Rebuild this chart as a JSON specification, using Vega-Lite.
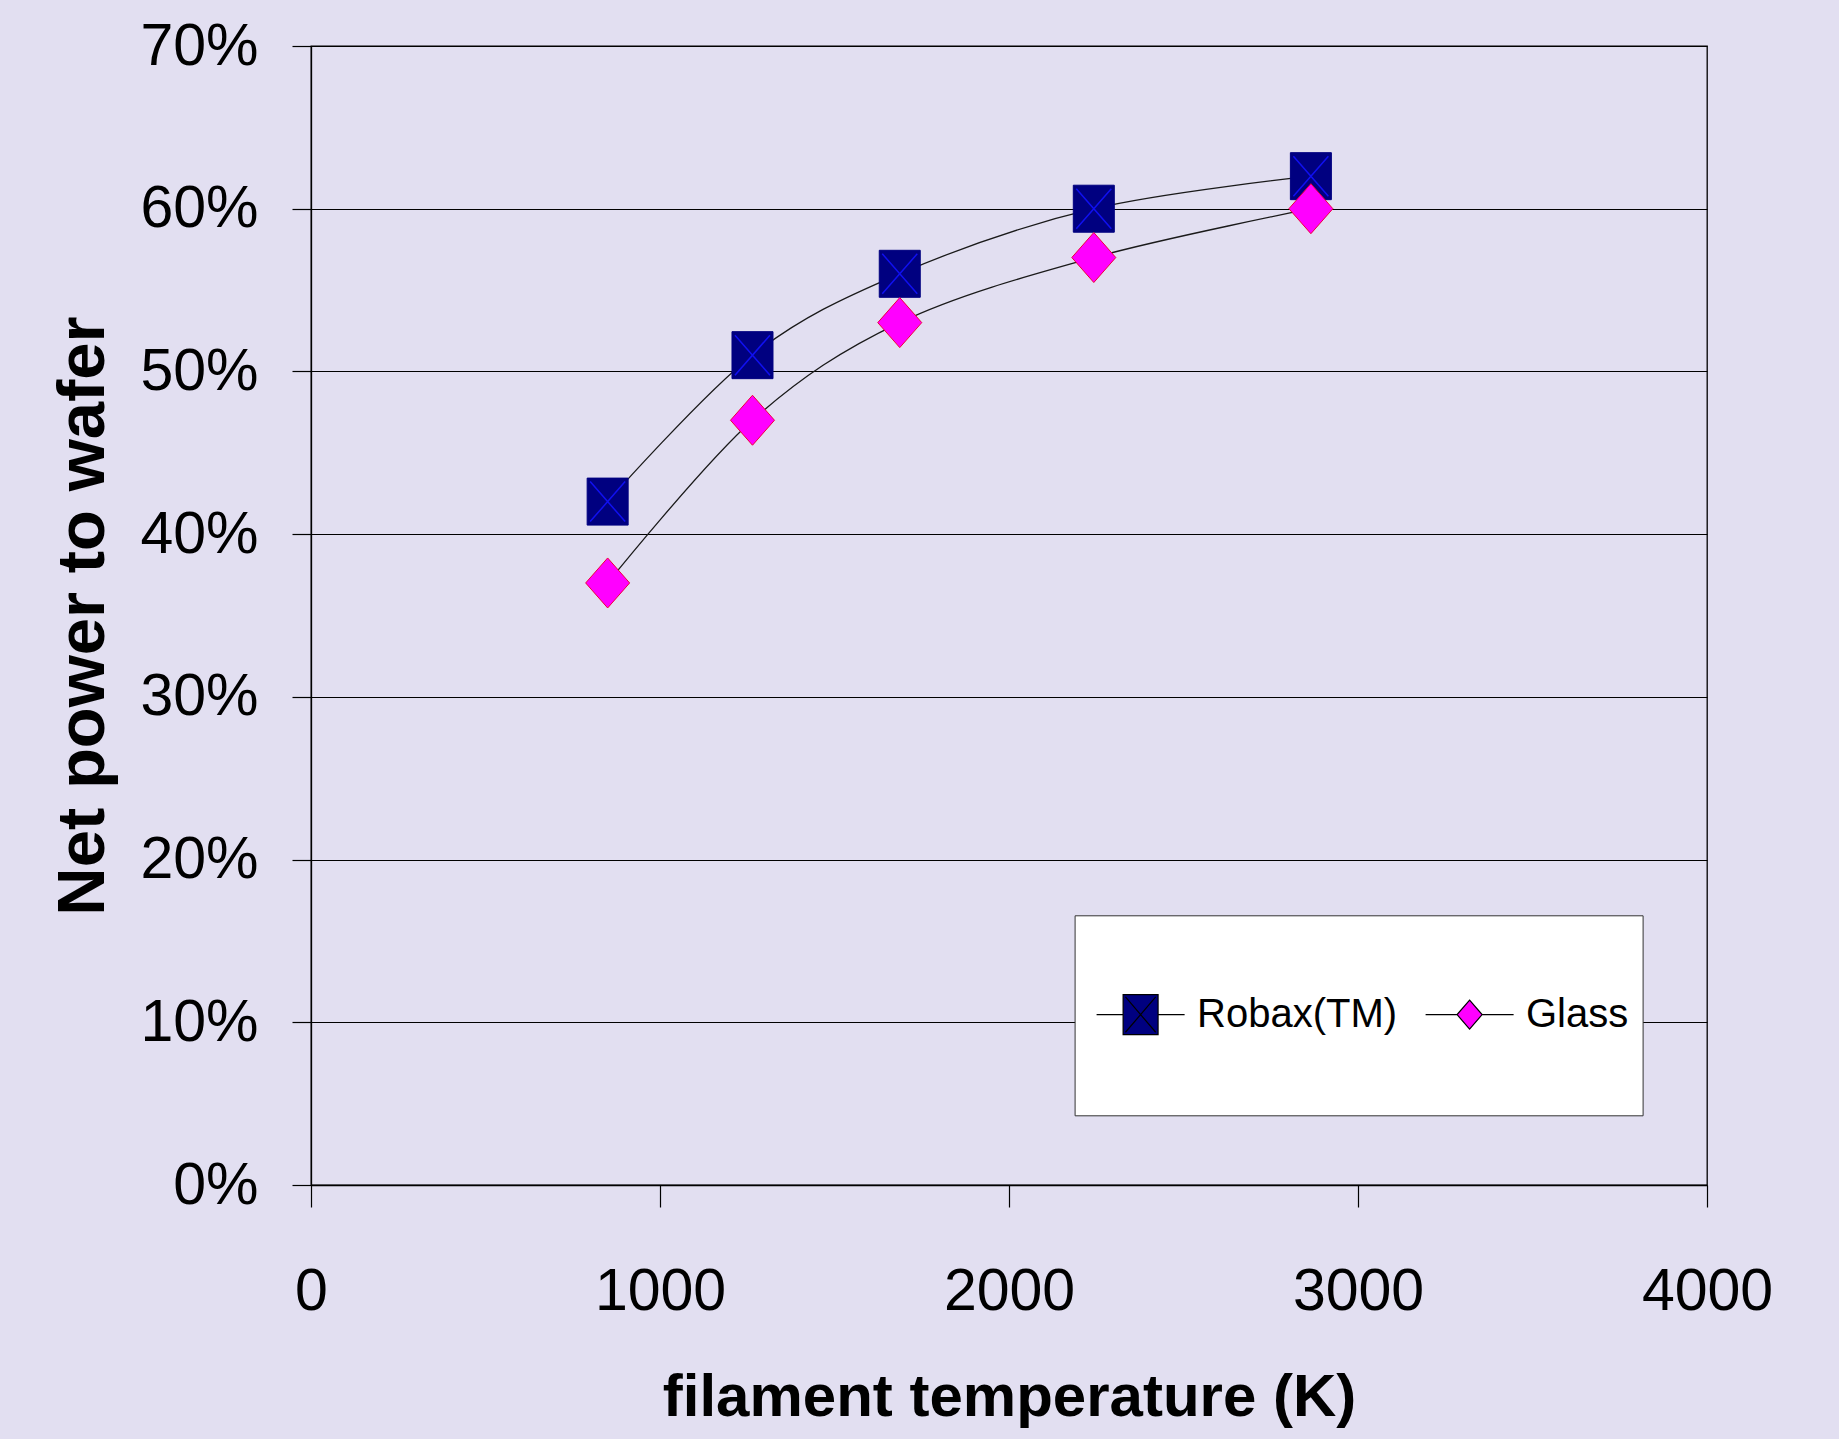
{
  "$schema": "https://vega.github.io/schema/vega-lite/v6.json",
  "width": 1396,
  "height": 1139,
  "autosize": {"type": "none"},
  "padding": {"left": 311, "top": 46, "right": 132, "bottom": 254},
  "background": "#E2DFF1",
  "config": {
    "view": {"stroke": "black", "strokeWidth": 1.3},
    "axis": {
      "labelFont": "Liberation Sans",
      "labelFontSize": 59,
      "labelColor": "black",
      "labelFlush": false,
      "labelOverlap": false,
      "titleFont": "Liberation Sans",
      "titleFontWeight": "bold",
      "titleColor": "black",
      "tickColor": "black",
      "tickWidth": 1.2,
      "domainColor": "black",
      "domainWidth": 1.3,
      "gridColor": "black",
      "gridOpacity": 1,
      "gridWidth": 1.2
    },
    "legend": {
      "orient": "none",
      "legendX": 763.6,
      "legendY": 869.3,
      "direction": "horizontal",
      "padding": 14,
      "fillColor": "white",
      "strokeColor": "#333333",
      "symbolSize": 28224,
      "symbolStrokeWidth": 1.2,
      "symbolOpacity": 1,
      "symbolOffset": -33,
      "labelOffset": -28.6,
      "columnPadding": 20,
      "labelFont": "Liberation Sans",
      "labelFontSize": 40,
      "labelColor": "black",
      "labelLimit": 500
    }
  },
  "datasets": {
    "efficiency": [
      {"series": "Robax(TM)", "temperature": 850, "fraction": 0.42},
      {"series": "Robax(TM)", "temperature": 1265, "fraction": 0.51},
      {"series": "Robax(TM)", "temperature": 1687, "fraction": 0.56},
      {"series": "Robax(TM)", "temperature": 2243, "fraction": 0.60},
      {"series": "Robax(TM)", "temperature": 2865, "fraction": 0.62},
      {"series": "Glass", "temperature": 850, "fraction": 0.37},
      {"series": "Glass", "temperature": 1265, "fraction": 0.47},
      {"series": "Glass", "temperature": 1687, "fraction": 0.53},
      {"series": "Glass", "temperature": 2243, "fraction": 0.57},
      {"series": "Glass", "temperature": 2865, "fraction": 0.60}
    ]
  },
  "data": {"name": "efficiency"},
  "encoding": {
    "x": {
      "field": "temperature",
      "type": "quantitative",
      "scale": {"domain": [0, 4000], "nice": false},
      "axis": {
        "values": [0, 1000, 2000, 3000, 4000],
        "format": "d",
        "grid": false,
        "tickSize": 22,
        "labelPadding": 55,
        "title": "filament temperature (K)",
        "titleFontSize": 60,
        "titlePadding": 47
      }
    },
    "y": {
      "field": "fraction",
      "type": "quantitative",
      "scale": {"domain": [0, 0.7], "nice": false},
      "axis": {
        "values": [0, 0.1, 0.2, 0.3, 0.4, 0.5, 0.6, 0.7],
        "format": ".0%",
        "grid": true,
        "tickSize": 19,
        "labelPadding": 34,
        "title": "Net power to wafer",
        "titleFontSize": 67,
        "titlePadding": 22
      }
    }
  },
  "layer": [
    {
      "mark": {"type": "line", "interpolate": "cardinal", "tension": 0, "color": "#1a1a1a", "strokeWidth": 1.3},
      "encoding": {"detail": {"field": "series", "type": "nominal"}}
    },
    {
      "transform": [{"filter": "datum.series === 'Robax(TM)'"}],
      "mark": {
        "type": "point",
        "filled": true,
        "shape": "M-0.82,-0.94H0.82V0.94H-0.82Z",
        "size": 2500,
        "fill": "#000080",
        "stroke": "#000080",
        "strokeWidth": 1,
        "opacity": 1
      }
    },
    {
      "transform": [{"filter": "datum.series === 'Robax(TM)'"}],
      "mark": {
        "type": "point",
        "filled": false,
        "shape": "M-0.7,-0.8L0.7,0.8M-0.7,0.8L0.7,-0.8",
        "size": 2500,
        "stroke": "#1010F0",
        "strokeWidth": 1.5,
        "opacity": 1
      }
    },
    {
      "transform": [{"filter": "datum.series === 'Glass'"}],
      "mark": {
        "type": "point",
        "filled": true,
        "shape": "M0,-1L0.88,0L0,1L-0.88,0Z",
        "size": 2500,
        "fill": "#FF00FF",
        "stroke": "#F0003C",
        "strokeWidth": 1,
        "opacity": 1
      }
    },
    {
      "description": "Legend key: series symbols with the line running through them; the marks themselves stay hidden.",
      "mark": {"type": "point", "filled": true, "opacity": 0, "strokeWidth": 1.2},
      "encoding": {
        "fill": {
          "field": "series",
          "type": "nominal",
          "title": null,
          "scale": {"domain": ["Robax(TM)", "Glass"], "range": ["#000080", "#FF00FF"]}
        },
        "stroke": {
          "field": "series",
          "type": "nominal",
          "title": null,
          "scale": {"domain": ["Robax(TM)", "Glass"], "range": ["black", "black"]}
        },
        "shape": {
          "field": "series",
          "type": "nominal",
          "title": null,
          "scale": {
            "domain": ["Robax(TM)", "Glass"],
            "range": [
              "M0,-1M0,1M-0.524,0H-0.208M0.208,0H0.524M-0.208,-0.238H0.208V0.238H-0.208ZM-0.18,-0.21L0.18,0.21M-0.18,0.21L0.18,-0.21",
              "M0,-1M0,1M-0.524,0H-0.149M0.149,0H0.524M0,-0.173L0.149,0L0,0.173L-0.149,0Z"
            ]
          }
        }
      }
    }
  ]
}
